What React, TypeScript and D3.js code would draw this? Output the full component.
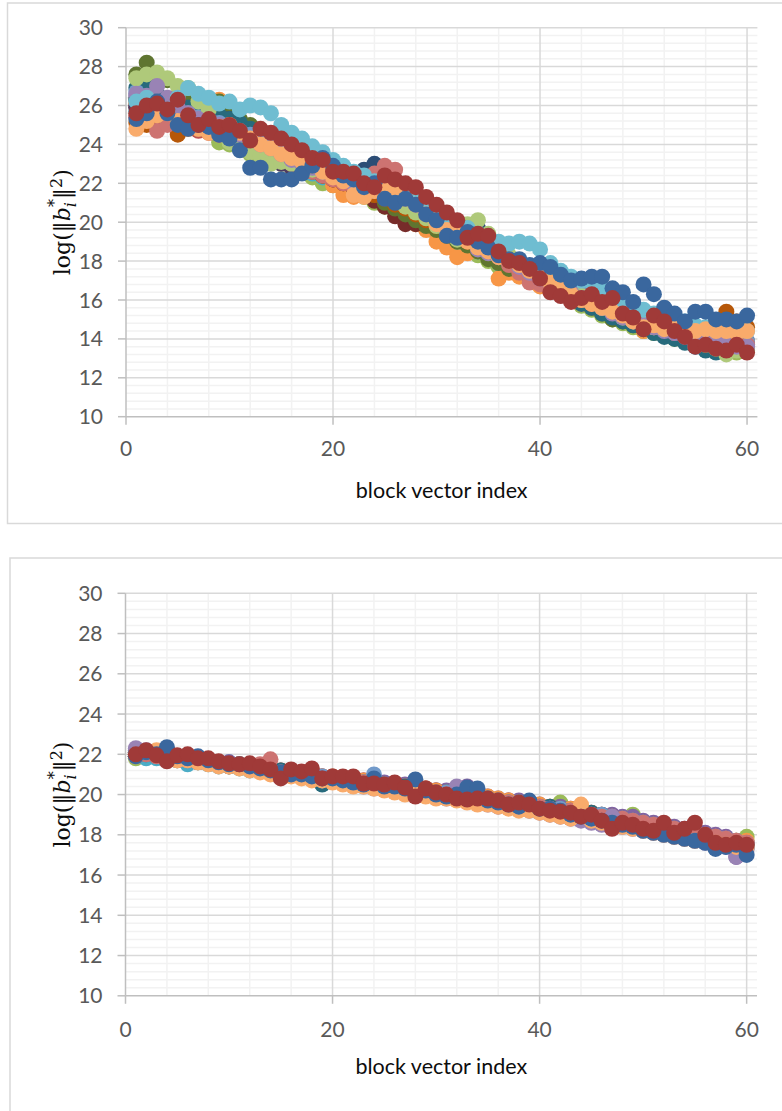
import React from 'react';
import * as d3 from 'd3';

// ---------- series colours (Excel 2010 palette order) ----------
const seriesColors = [
  '#4F81BD', '#C0504D', '#9BBB59', '#8064A2', '#4BACC6', '#F79646',
  '#2C4D75', '#772C2A', '#5F7530', '#4D3B62', '#276A7C', '#B65708',
  '#729ACA', '#CD7371', '#AFC97A', '#9983B5', '#6FBDD1', '#F9AB6B',
  '#3A679E', '#A03A38',
];

const blockIndex = d3.range(1, 61);
const xTickValues = [0, 20, 40, 60];
const yTickValues = [10, 12, 14, 16, 18, 20, 22, 24, 26, 28, 30];
const xTitle = 'block vector index';

// ---------- top chart series ----------
const topS1 = [25.9, 25.7, 25.5, 25.6, 25.4, 25.2, 24.9, 24.7, 24.6, 24.5, 24.3, 24.1, 23.9, 23.6, 23.4, 23.2, 23.0, 22.8, 22.5, 22.3, 22.1, 21.9, 21.7, 21.5, 21.3, 21.0, 20.8, 20.6, 20.3, 20.1, 19.8, 19.5, 19.2, 18.9, 18.6, 18.3, 18.1, 17.8, 17.5, 17.3, 17.0, 16.8, 16.5, 16.3, 16.0, 15.8, 15.6, 15.4, 15.2, 15.0, 14.9, 14.7, 14.6, 14.4, 14.3, 14.2, 14.1, 14.0, 14.0, 13.9];
const topS2 = [25.4, 25.2, 25.4, 25.3, 25.1, 24.9, 24.7, 24.6, 24.3, 24.1, 23.9, 23.7, 23.5, 23.3, 23.1, 22.9, 22.7, 22.5, 22.3, 22.1, 21.9, 21.7, 21.5, 21.3, 21.1, 20.8, 20.5, 20.3, 20.0, 19.7, 19.5, 19.2, 18.9, 18.6, 18.3, 18.0, 17.8, 17.5, 17.3, 17.0, 16.8, 16.5, 16.3, 16.0, 15.8, 15.5, 15.3, 15.1, 14.9, 14.7, 14.5, 14.4, 14.2, 14.1, 14.0, 13.9, 13.8, 13.7, 13.6, 13.6];
const topS3 = [26.3, 26.0, 25.9, 25.7, 25.4, 25.0, 24.8, 24.9, 24.1, 24.0, 23.8, 23.5, 23.3, 23.1, 23.0, 22.8, 22.6, 22.3, 22.0, 21.9, 21.7, 21.5, 21.3, 21.0, 20.8, 20.5, 20.3, 20.0, 19.7, 19.4, 19.1, 18.9, 18.7, 18.3, 18.0, 17.7, 17.5, 17.3, 17.0, 16.8, 16.6, 16.3, 16.0, 15.7, 15.5, 15.2, 15.0, 14.8, 14.6, 14.4, 14.3, 14.2, 14.0, 13.9, 13.8, 13.6, 13.4, 13.3, 13.3, 13.4];
const topS4 = [26.5, 26.3, 26.1, 25.9, 25.7, 25.3, 25.0, 24.7, 24.5, 24.4, 24.2, 24.0, 23.8, 23.6, 23.4, 23.1, 22.9, 22.6, 22.4, 22.3, 22.1, 22.0, 21.8, 21.5, 21.3, 21.1, 20.8, 20.6, 20.3, 20.0, 19.7, 19.4, 19.0, 18.7, 18.4, 18.1, 17.8, 17.6, 17.3, 17.0, 16.8, 16.5, 16.3, 16.0, 15.8, 15.5, 15.3, 15.1, 14.9, 14.8, 14.6, 14.5, 14.4, 14.3, 14.2, 14.1, 13.9, 13.8, 13.7, 13.6];
const topS5 = [25.7, 25.9, 25.6, 25.4, 25.3, 25.1, 25.0, 24.9, 24.6, 24.3, 24.1, 23.8, 23.5, 23.3, 23.1, 22.9, 22.7, 22.5, 22.3, 22.1, 21.9, 21.6, 21.4, 21.2, 20.9, 20.6, 20.4, 20.1, 19.8, 19.5, 19.3, 19.0, 18.8, 18.5, 18.2, 17.9, 17.7, 17.4, 17.2, 17.0, 16.7, 16.5, 16.3, 16.0, 15.7, 15.5, 15.2, 15.0, 14.9, 14.7, 14.6, 14.5, 14.3, 14.2, 14.1, 14.0, 13.9, 13.8, 13.8, 13.7];
const topS6 = [26.1, 26.0, 25.8, 25.7, 25.8, 26.7, 26.5, 26.1, 26.3, 25.1, 24.9, 24.6, 24.2, 24.0, 23.7, 23.4, 23.0, 22.7, 22.4, 21.9, 21.4, 21.3, 21.6, 21.3, 21.0, 20.7, 20.3, 19.9, 19.6, 19.0, 18.7, 18.2, 18.4, 18.8, 18.3, 17.1, 17.4, 17.2, 17.0, 16.7, 16.5, 16.3, 16.1, 15.8, 15.6, 15.4, 15.2, 15.0, 14.8, 14.4, 14.5, 14.6, 14.4, 14.3, 14.2, 14.1, 14.0, 14.0, 13.9, 13.8];
const topS7 = [26.3, 26.1, 25.9, 25.7, 25.5, 25.4, 25.2, 25.0, 24.8, 24.6, 24.4, 24.2, 24.0, 23.8, 23.5, 23.3, 23.1, 22.9, 22.7, 22.5, 22.3, 22.4, 22.7, 23.0, 22.3, 21.6, 21.2, 20.9, 20.6, 20.3, 20.0, 19.7, 19.6, 19.7, 19.1, 18.6, 18.2, 17.9, 17.6, 17.3, 17.0, 16.8, 16.5, 16.2, 16.0, 15.7, 15.5, 15.3, 15.1, 14.9, 14.8, 14.6, 14.5, 14.3, 14.2, 14.0, 13.9, 13.8, 13.7, 13.6];
const topS8 = [25.9, 25.8, 25.6, 25.5, 25.3, 25.1, 24.9, 24.8, 24.6, 24.4, 24.2, 24.0, 23.8, 23.6, 23.4, 23.1, 22.9, 22.7, 22.4, 22.2, 22.0, 21.7, 21.4, 21.1, 20.8, 20.3, 19.9, 19.9, 20.1, 20.0, 19.7, 19.4, 19.1, 18.8, 18.5, 18.2, 17.9, 17.6, 17.4, 17.1, 16.9, 16.6, 16.4, 16.1, 15.9, 15.6, 15.4, 15.2, 15.0, 14.8, 14.6, 14.4, 14.2, 14.0, 13.9, 13.8, 13.7, 13.7, 13.8, 13.7];
const topS9 = [27.6, 28.2, 27.5, 27.3, 26.5, 26.2, 26.0, 26.1, 26.2, 25.6, 25.3, 25.0, 24.6, 24.0, 23.5, 23.2, 23.0, 22.8, 22.5, 22.3, 22.1, 21.9, 21.6, 21.4, 21.0, 20.7, 20.4, 20.1, 19.8, 19.6, 19.3, 19.0, 18.8, 18.5, 18.1, 17.9, 17.6, 17.5, 17.2, 17.0, 16.7, 16.5, 16.2, 15.9, 15.6, 15.3, 15.0, 14.9, 14.7, 14.6, 14.5, 14.4, 14.3, 14.1, 14.0, 13.8, 13.6, 13.4, 13.5, 13.6];
const topS10 = [26.0, 25.9, 25.8, 25.7, 25.7, 25.8, 25.9, 25.6, 25.4, 25.3, 25.0, 24.7, 24.4, 24.2, 23.0, 22.8, 23.4, 23.2, 22.9, 22.6, 22.4, 22.2, 22.0, 21.7, 21.5, 21.2, 21.0, 20.7, 20.4, 20.1, 19.9, 19.6, 19.3, 19.0, 18.7, 18.4, 18.1, 17.8, 17.5, 17.2, 16.9, 16.7, 16.4, 16.2, 15.9, 15.7, 15.4, 15.2, 15.0, 14.8, 14.6, 14.4, 14.2, 14.0, 13.8, 13.7, 13.6, 13.6, 13.6, 13.7];
const topS11 = [26.9, 27.0, 26.6, 26.3, 26.1, 25.9, 25.8, 25.6, 25.5, 25.3, 25.1, 24.8, 24.5, 24.3, 24.0, 23.7, 23.4, 23.1, 22.9, 22.7, 22.5, 22.2, 22.0, 21.8, 21.6, 21.3, 21.1, 20.9, 20.6, 20.3, 20.0, 19.8, 19.5, 19.1, 18.8, 18.3, 17.9, 17.6, 17.2, 16.9, 16.6, 16.4, 16.1, 15.8, 15.6, 15.3, 15.1, 14.9, 14.7, 14.5, 14.3, 14.1, 14.0, 13.8, 13.6, 13.4, 13.3, 13.5, 13.5, 13.5];
const topS12 = [25.1, 25.0, 25.2, 25.3, 24.5, 24.8, 25.0, 25.1, 24.8, 24.6, 24.4, 24.1, 23.9, 23.6, 23.3, 23.1, 22.9, 22.6, 22.4, 22.2, 22.0, 21.8, 21.6, 21.4, 21.2, 20.9, 20.7, 20.4, 20.1, 19.8, 19.6, 19.3, 19.0, 18.8, 18.5, 18.3, 18.0, 17.8, 17.6, 17.3, 17.1, 16.8, 16.6, 16.3, 16.1, 15.8, 15.6, 15.4, 15.2, 15.0, 14.8, 14.7, 14.6, 14.5, 14.4, 14.5, 14.8, 15.4, 14.9, 14.6];
const topS13 = [26.7, 26.4, 26.2, 26.0, 25.8, 25.6, 25.4, 25.3, 25.1, 24.9, 24.7, 24.5, 24.3, 24.0, 23.7, 23.5, 23.2, 23.0, 22.8, 22.5, 22.3, 22.1, 21.9, 21.7, 21.5, 21.2, 21.0, 20.8, 20.5, 20.2, 19.9, 19.6, 19.3, 19.0, 18.7, 18.4, 18.1, 17.9, 17.6, 17.4, 17.1, 16.9, 16.6, 16.4, 16.1, 15.9, 15.6, 15.4, 15.2, 15.0, 14.8, 14.6, 14.4, 14.2, 13.6, 13.9, 14.0, 13.9, 13.9, 13.8];
const topS14 = [25.5, 25.3, 24.7, 25.0, 25.2, 24.9, 24.8, 24.7, 24.5, 24.2, 24.0, 23.8, 23.6, 23.4, 23.2, 23.0, 22.8, 22.6, 22.4, 22.2, 22.0, 21.8, 22.2, 22.5, 22.9, 22.7, 21.8, 21.3, 20.8, 20.4, 20.1, 19.8, 19.5, 19.2, 18.8, 18.3, 17.8, 17.4, 16.9, 16.8, 16.6, 16.4, 16.2, 16.0, 15.8, 15.6, 15.4, 15.2, 15.0, 14.8, 14.6, 14.5, 14.3, 14.2, 14.1, 14.0, 13.9, 13.8, 13.7, 13.7];
const topS15 = [27.4, 27.6, 27.7, 27.4, 27.0, 26.9, 26.2, 25.8, 24.6, 24.1, 24.0, 23.6, 23.4, 23.0, 23.1, 23.0, 22.9, 22.7, 22.6, 23.0, 22.4, 22.3, 22.1, 21.8, 21.5, 21.1, 20.8, 20.5, 20.2, 19.8, 19.4, 19.1, 19.9, 20.1, 19.4, 18.8, 18.3, 18.0, 17.7, 17.5, 17.2, 17.0, 16.6, 16.2, 15.9, 15.6, 15.4, 15.1, 14.9, 14.7, 14.6, 14.5, 14.4, 14.2, 14.0, 13.7, 13.5, 13.2, 13.4, 13.5];
const topS16 = [26.6, 26.5, 27.0, 26.4, 25.9, 25.6, 25.3, 25.2, 25.0, 24.8, 24.5, 24.3, 24.0, 23.8, 23.5, 23.2, 23.0, 22.8, 22.6, 22.4, 22.2, 22.0, 21.8, 21.6, 21.4, 21.8, 21.4, 20.9, 20.5, 20.2, 19.9, 19.6, 19.2, 18.6, 18.4, 18.2, 18.0, 17.7, 17.4, 17.1, 16.9, 16.6, 16.4, 16.1, 15.9, 15.6, 15.3, 15.1, 14.9, 14.7, 14.6, 14.4, 14.3, 14.1, 14.0, 13.9, 13.8, 13.7, 13.6, 13.6];
const topS17 = [26.2, 26.4, 26.0, 25.8, 26.4, 26.9, 26.6, 26.4, 26.1, 26.2, 25.8, 26.0, 25.9, 25.6, 25.0, 24.6, 24.3, 23.9, 23.6, 23.2, 22.9, 22.6, 22.4, 22.1, 22.0, 21.8, 21.6, 21.3, 21.0, 20.6, 20.3, 20.0, 19.7, 19.4, 19.2, 19.0, 18.9, 19.0, 18.9, 18.6, 17.9, 17.5, 17.2, 17.0, 16.9, 16.6, 16.1, 15.9, 15.7, 15.5, 15.3, 15.2, 15.0, 14.9, 14.7, 14.6, 14.5, 14.5, 14.4, 14.4];
const topS18 = [24.8, 25.2, 25.5, 25.6, 25.2, 25.0, 24.8, 24.6, 24.9, 25.0, 24.6, 24.3, 24.0, 23.8, 23.5, 23.3, 23.1, 22.9, 22.6, 22.3, 22.1, 21.4, 21.3, 21.6, 21.8, 21.5, 21.2, 20.9, 20.4, 19.9, 19.6, 19.4, 19.0, 18.7, 18.5, 18.2, 18.0, 17.8, 17.5, 17.2, 16.9, 16.6, 16.3, 16.0, 15.8, 15.6, 15.4, 15.2, 14.9, 14.6, 14.7, 14.5, 14.6, 14.5, 14.4, 14.5, 14.4, 14.4, 14.3, 14.4];
const topS19 = [25.3, 25.6, 26.2, 25.6, 25.0, 24.8, 25.0, 24.9, 24.5, 24.3, 23.7, 22.8, 22.8, 22.2, 22.2, 22.2, 22.5, 22.9, 23.3, 22.9, 22.4, 22.2, 21.8, 22.0, 21.2, 21.0, 21.2, 20.9, 20.4, 20.1, 19.3, 19.2, 19.5, 19.0, 18.7, 18.3, 18.1, 18.1, 17.8, 17.9, 17.7, 17.3, 17.0, 17.1, 17.2, 17.2, 16.6, 16.4, 15.9, 16.8, 16.3, 15.6, 15.3, 14.9, 15.4, 15.4, 15.0, 15.0, 14.9, 15.2];
const topS20 = [25.6, 26.0, 26.1, 25.8, 26.3, 25.5, 25.0, 25.3, 24.9, 25.0, 24.7, 24.2, 24.8, 24.6, 24.3, 24.0, 23.7, 23.3, 23.2, 22.6, 22.6, 22.5, 22.0, 21.8, 22.4, 22.2, 22.0, 21.8, 21.3, 20.9, 20.5, 20.1, 19.2, 19.4, 19.3, 18.5, 18.0, 17.9, 17.6, 17.1, 16.4, 16.2, 15.9, 16.1, 16.3, 15.9, 16.1, 15.3, 15.1, 14.5, 15.2, 14.9, 14.4, 14.1, 13.6, 13.7, 13.5, 13.4, 13.7, 13.3];

// ---------- bottom chart series ----------
const botS1 = [21.9, 22.0, 22.1, 21.8, 21.9, 21.7, 21.8, 21.6, 21.5, 21.6, 21.4, 21.4, 21.3, 21.2, 21.2, 21.0, 21.1, 20.9, 20.9, 20.8, 20.8, 20.7, 20.6, 20.7, 20.5, 20.4, 20.4, 20.3, 20.2, 20.2, 20.0, 20.0, 19.9, 19.8, 19.8, 19.7, 19.6, 19.5, 19.5, 19.4, 19.3, 19.2, 19.2, 19.0, 19.0, 18.9, 18.8, 18.6, 18.6, 18.4, 18.4, 18.2, 18.2, 18.0, 18.0, 17.8, 17.8, 17.6, 17.6, 17.4];
const botS2 = [22.1, 21.9, 22.0, 21.9, 21.8, 21.8, 21.7, 21.7, 21.6, 21.5, 21.5, 21.3, 21.4, 21.2, 21.1, 21.1, 21.0, 21.0, 20.9, 20.8, 20.8, 20.7, 20.7, 20.6, 20.5, 20.5, 20.4, 20.3, 20.3, 20.2, 20.1, 20.0, 19.9, 19.9, 19.8, 19.7, 19.7, 19.6, 19.4, 19.4, 19.3, 19.3, 19.1, 19.1, 18.9, 18.9, 18.8, 18.7, 18.5, 18.5, 18.3, 18.3, 18.2, 18.1, 17.9, 17.9, 17.7, 17.7, 17.5, 17.5];
const botS3 = [21.8, 21.9, 21.9, 21.8, 21.7, 21.7, 21.6, 21.6, 21.5, 21.4, 21.4, 21.3, 21.2, 21.2, 21.1, 21.0, 21.0, 20.9, 20.8, 20.8, 20.7, 20.7, 20.6, 20.5, 20.5, 20.4, 20.3, 20.3, 20.2, 20.1, 20.1, 20.0, 19.9, 19.8, 19.8, 19.7, 19.6, 19.6, 19.5, 19.4, 19.4, 19.6, 19.2, 19.1, 19.0, 18.9, 18.9, 18.8, 19.0, 18.6, 18.5, 18.4, 18.3, 18.2, 18.1, 18.0, 17.9, 17.8, 17.7, 17.9];
const botS4 = [22.2, 22.1, 22.0, 22.0, 21.9, 21.8, 21.8, 21.7, 21.6, 21.6, 21.5, 21.4, 21.4, 21.3, 21.2, 21.1, 21.1, 21.0, 20.9, 20.9, 20.8, 20.8, 20.7, 20.6, 20.6, 20.5, 20.5, 20.4, 20.3, 20.2, 20.2, 20.1, 20.4, 19.9, 19.9, 19.8, 19.7, 19.7, 19.6, 19.5, 19.4, 19.4, 19.3, 19.2, 19.1, 19.0, 19.0, 18.9, 18.9, 18.7, 18.6, 18.5, 18.4, 18.3, 18.2, 18.1, 18.0, 17.9, 16.9, 17.6];
const botS5 = [21.9, 21.8, 21.8, 21.7, 21.7, 21.5, 21.6, 21.5, 21.4, 21.4, 21.3, 21.2, 21.2, 21.1, 21.0, 21.0, 20.9, 20.8, 20.8, 20.7, 20.7, 20.6, 20.5, 20.5, 20.4, 20.3, 20.3, 20.2, 20.1, 20.0, 20.0, 19.9, 19.8, 19.8, 19.7, 19.6, 19.6, 19.5, 19.4, 19.3, 19.3, 19.2, 19.1, 19.0, 19.0, 18.9, 18.8, 18.7, 18.6, 18.5, 18.4, 18.3, 18.2, 18.1, 18.0, 17.9, 17.8, 17.7, 17.6, 17.4];
const botS6 = [22.0, 22.1, 22.0, 21.9, 21.9, 21.8, 21.7, 21.7, 21.6, 21.5, 21.5, 21.4, 21.3, 21.3, 21.2, 21.1, 21.1, 21.0, 20.9, 20.9, 20.8, 20.7, 20.7, 20.6, 20.5, 20.5, 20.4, 20.4, 20.3, 20.2, 20.1, 20.1, 20.0, 19.9, 19.9, 19.8, 19.7, 19.6, 19.6, 19.5, 19.4, 19.3, 19.3, 19.2, 19.1, 19.0, 18.9, 18.8, 18.7, 18.6, 18.5, 18.4, 18.3, 18.2, 18.1, 18.0, 17.9, 17.8, 17.7, 17.7];
const botS11 = [22.1, 22.0, 21.9, 21.9, 21.8, 21.8, 21.7, 21.6, 21.6, 21.5, 21.4, 21.4, 21.3, 21.2, 21.2, 21.1, 21.0, 21.0, 20.5, 20.8, 20.8, 20.7, 20.6, 20.6, 20.5, 20.4, 20.4, 20.3, 20.2, 20.1, 20.1, 20.0, 19.9, 19.9, 19.8, 19.7, 19.6, 19.6, 19.5, 19.4, 19.4, 19.3, 19.2, 19.1, 19.1, 19.0, 18.9, 18.8, 18.7, 18.6, 18.5, 18.4, 18.3, 18.2, 18.1, 18.0, 17.8, 17.7, 17.6, 17.5];
const botS13 = [22.0, 22.0, 21.9, 21.8, 21.8, 21.7, 21.7, 21.6, 21.5, 21.5, 21.4, 21.3, 21.3, 21.2, 21.1, 21.1, 21.0, 20.9, 20.9, 20.8, 20.7, 20.7, 20.6, 21.0, 20.5, 20.4, 20.3, 20.3, 20.2, 20.1, 20.1, 20.0, 19.9, 19.8, 19.8, 19.7, 19.6, 19.6, 19.5, 19.4, 19.3, 19.3, 19.2, 19.1, 19.0, 19.0, 18.9, 18.8, 18.7, 18.6, 18.5, 18.4, 18.3, 18.2, 18.1, 18.0, 17.9, 17.8, 17.7, 17.6];
const botS14 = [21.9, 22.0, 21.9, 21.8, 21.7, 21.7, 21.6, 21.6, 21.5, 21.4, 21.4, 21.3, 21.5, 21.75, 21.1, 21.0, 21.0, 20.9, 20.8, 20.8, 20.7, 20.6, 20.6, 20.5, 20.4, 20.4, 20.3, 20.2, 20.2, 20.1, 20.0, 20.0, 19.9, 19.8, 19.7, 19.7, 19.6, 19.5, 19.5, 19.4, 19.3, 19.2, 19.2, 19.1, 19.0, 18.9, 18.9, 18.8, 18.7, 18.6, 18.5, 18.4, 18.3, 18.2, 18.1, 18.0, 17.9, 17.8, 17.7, 17.6];
const botS16 = [22.3, 22.2, 22.0, 21.9, 21.9, 21.8, 21.7, 21.6, 21.5, 21.5, 21.4, 21.3, 21.2, 21.1, 21.0, 21.0, 20.9, 20.8, 20.7, 20.7, 20.6, 20.5, 20.4, 20.3, 20.3, 20.2, 20.1, 20.0, 20.0, 19.9, 19.8, 20.4, 19.7, 19.6, 19.5, 19.4, 19.4, 19.3, 19.2, 19.1, 19.0, 18.9, 18.8, 18.7, 18.6, 18.5, 18.9, 18.4, 18.3, 18.2, 18.1, 18.0, 17.9, 17.8, 17.7, 17.6, 17.5, 17.4, 16.9, 17.3];
const botS18 = [21.9, 22.1, 22.2, 21.8, 21.7, 21.7, 21.6, 21.5, 21.4, 21.4, 21.3, 21.2, 21.1, 21.0, 21.0, 20.9, 20.8, 20.7, 20.7, 20.6, 20.5, 20.4, 20.4, 20.3, 20.2, 20.1, 20.0, 20.0, 19.9, 19.8, 19.8, 19.7, 19.6, 19.5, 19.5, 19.4, 19.3, 19.2, 19.2, 19.1, 19.0, 18.9, 18.8, 19.5, 18.7, 18.6, 18.5, 18.4, 18.3, 18.2, 18.1, 18.0, 17.9, 17.8, 17.7, 17.8, 17.6, 17.5, 17.4, 17.4];
const botS19 = [21.9, 22.1, 22.0, 22.35, 21.9, 21.8, 21.9, 21.7, 21.6, 21.5, 21.5, 21.4, 21.3, 21.2, 21.1, 21.0, 21.0, 20.9, 20.8, 20.8, 20.7, 20.6, 20.5, 20.8, 20.4, 20.4, 20.3, 20.75, 20.2, 20.0, 19.9, 20.0, 20.35, 20.3, 19.7, 19.6, 19.5, 19.4, 19.7, 19.3, 19.3, 19.2, 19.0, 18.9, 18.8, 18.7, 18.6, 18.5, 18.4, 18.2, 18.1, 18.0, 17.9, 17.8, 17.7, 17.6, 17.3, 17.4, 17.5, 17.0];
const botS20 = [22.0, 22.2, 21.95, 21.65, 21.95, 22.0, 21.8, 21.8, 21.65, 21.55, 21.5, 21.55, 21.4, 21.25, 20.8, 21.25, 21.15, 21.3, 20.8, 20.9, 20.9, 20.9, 20.55, 20.55, 20.5, 20.6, 20.35, 19.9, 20.3, 20.1, 20.0, 19.8, 19.75, 19.8, 19.8, 19.7, 19.5, 19.6, 19.5, 19.3, 19.2, 19.15, 19.1, 18.9, 19.0, 18.7, 18.3, 18.6, 18.5, 18.3, 18.2, 18.6, 18.1, 18.3, 18.6, 18.0, 17.6, 17.5, 17.6, 17.5];

const topSeries = [
  { values: topS1, color: seriesColors[0] }, { values: topS2, color: seriesColors[1] },
  { values: topS3, color: seriesColors[2] }, { values: topS4, color: seriesColors[3] },
  { values: topS5, color: seriesColors[4] }, { values: topS6, color: seriesColors[5] },
  { values: topS7, color: seriesColors[6] }, { values: topS8, color: seriesColors[7] },
  { values: topS9, color: seriesColors[8] }, { values: topS10, color: seriesColors[9] },
  { values: topS11, color: seriesColors[10] }, { values: topS12, color: seriesColors[11] },
  { values: topS13, color: seriesColors[12] }, { values: topS14, color: seriesColors[13] },
  { values: topS15, color: seriesColors[14] }, { values: topS16, color: seriesColors[15] },
  { values: topS17, color: seriesColors[16] }, { values: topS18, color: seriesColors[17] },
  { values: topS19, color: seriesColors[18] }, { values: topS20, color: seriesColors[19] },
];

const bottomSeries = [
  { values: botS1, color: seriesColors[0] }, { values: botS2, color: seriesColors[1] },
  { values: botS3, color: seriesColors[2] }, { values: botS4, color: seriesColors[3] },
  { values: botS5, color: seriesColors[4] }, { values: botS6, color: seriesColors[5] },
  { values: botS11, color: seriesColors[10] }, { values: botS13, color: seriesColors[12] },
  { values: botS14, color: seriesColors[13] }, { values: botS16, color: seriesColors[15] },
  { values: botS18, color: seriesColors[17] }, { values: botS19, color: seriesColors[18] },
  { values: botS20, color: seriesColors[19] },
];

type Layout = {
  boxX: number; boxY: number; boxW: number; boxH: number;
  left: number; right: number; top: number; bottom: number;
  xLabelY: number; xTitleY: number; yTitleX: number;
};

const topLayout: Layout = {
  boxX: 7.5, boxY: 3, boxW: 800, boxH: 520.5,
  left: 126, right: 757.4, top: 27.7, bottom: 416.7,
  xLabelY: 456, xTitleY: 498, yTitleX: 70,
};
const bottomLayout: Layout = {
  boxX: 10, boxY: 558, boxW: 800, boxH: 600,
  left: 125.5, right: 757, top: 593.3, bottom: 995.8,
  xLabelY: 1037, xTitleY: 1074, yTitleX: 70,
};

const FONT = 'Lato, Carlito, Calibri, sans-serif';

function ScatterChart({ series, L }: { series: { values: number[]; color: string }[]; L: Layout }) {
  const x = d3.scaleLinear().domain([0, 61]).range([L.left, L.right]);
  const y = d3.scaleLinear().domain([10, 30]).range([L.bottom, L.top]);
  const minorY = d3.range(0, 51).filter((k) => k % 5 !== 0).map((k) => 10 + k * 0.4);
  const minorX = d3.range(4, 61, 4).filter((v) => v % 20 !== 0);
  const cy = (L.top + L.bottom) / 2;
  const cx = (L.left + L.right) / 2;
  return (
    <g>
      <rect x={L.boxX} y={L.boxY} width={L.boxW} height={L.boxH} fill="#fff" stroke="#d9d9d9" strokeWidth={1.5} />
      {minorY.map((v) => (
        <line key={'my' + v} x1={L.left} x2={L.right} y1={y(v)} y2={y(v)} stroke="#f2f2f2" strokeWidth={1.5} />
      ))}
      {minorX.map((v) => (
        <line key={'mx' + v} x1={x(v)} x2={x(v)} y1={L.top} y2={L.bottom} stroke="#f2f2f2" strokeWidth={1.5} />
      ))}
      {yTickValues.filter((v) => v !== 10).map((v) => (
        <line key={'gy' + v} x1={L.left} x2={L.right} y1={y(v)} y2={y(v)} stroke="#d9d9d9" strokeWidth={1.5} />
      ))}
      {xTickValues.filter((v) => v !== 0).map((v) => (
        <line key={'gx' + v} x1={x(v)} x2={x(v)} y1={L.top} y2={L.bottom} stroke="#d9d9d9" strokeWidth={1.5} />
      ))}
      <line x1={L.left} x2={L.left} y1={L.top} y2={L.bottom} stroke="#bfbfbf" strokeWidth={1.5} />
      <line x1={L.left} x2={L.right} y1={L.bottom} y2={L.bottom} stroke="#bfbfbf" strokeWidth={1.5} />
      {yTickValues.map((v) => (
        <g key={'ty' + v}>
          <line x1={L.left - 8} x2={L.left} y1={y(v)} y2={y(v)} stroke="#bfbfbf" strokeWidth={1.5} />
          <text x={L.left - 23} y={y(v)} dy="0.36em" textAnchor="end" fontFamily={FONT} fontSize={21} fill="#595959">{v}</text>
        </g>
      ))}
      {xTickValues.map((v) => (
        <g key={'tx' + v}>
          <line x1={x(v)} x2={x(v)} y1={L.bottom} y2={L.bottom + 8} stroke="#bfbfbf" strokeWidth={1.5} />
          <text x={x(v)} y={L.xLabelY} textAnchor="middle" fontFamily={FONT} fontSize={21} fill="#595959">{v}</text>
        </g>
      ))}
      {series.map((s, si) => (
        <g key={'s' + si} fill={s.color}>
          {s.values.map((v, i) => (
            <circle key={i} cx={x(blockIndex[i])} cy={y(v)} r={8} />
          ))}
        </g>
      ))}
      <text x={cx} y={L.xTitleY} textAnchor="middle" fontFamily={FONT} fontSize={21.5} fill="#0d0d0d">{xTitle}</text>
      <text transform={`translate(${L.yTitleX},${cy}) rotate(-90)`} textAnchor="middle" fontFamily="'DejaVu Serif', serif" fontSize={22} fill="#0d0d0d">
        log(‖<tspan fontStyle="italic">b</tspan>
        <tspan fontSize={16} fontStyle="italic" dy={6}>i</tspan>
        <tspan fontSize={16} dx={-5} dy={-16}>*</tspan>
        <tspan dy={10}>‖</tspan>
        <tspan fontSize={16} dy={-8}>2</tspan>
        <tspan dy={8}>)</tspan>
      </text>
    </g>
  );
}

export default function App() {
  return (
    <svg width={782} height={1111} style={{ position: 'absolute', left: 0, top: 0, background: '#fff' }}>
      <ScatterChart series={topSeries} L={topLayout} />
      <ScatterChart series={bottomSeries} L={bottomLayout} />
    </svg>
  );
}
